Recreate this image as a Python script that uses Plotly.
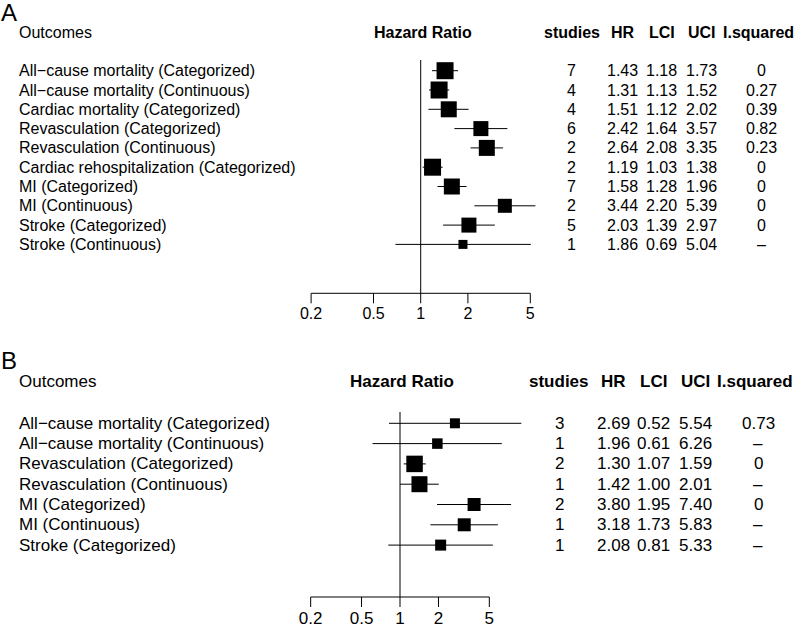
import plotly.graph_objects as go
import math

# ---------------- data ----------------
outcomes_a = ["All\u2212cause mortality (Categorized)", "All\u2212cause mortality (Continuous)",
              "Cardiac mortality (Categorized)", "Revasculation (Categorized)",
              "Revasculation (Continuous)", "Cardiac rehospitalization (Categorized)",
              "MI (Categorized)", "MI (Continuous)", "Stroke (Categorized)", "Stroke (Continuous)"]
studies_a = [7, 4, 4, 6, 2, 2, 7, 2, 5, 1]
hr_a = [1.43, 1.31, 1.51, 2.42, 2.64, 1.19, 1.58, 3.44, 2.03, 1.86]
lci_a = [1.18, 1.13, 1.12, 1.64, 2.08, 1.03, 1.28, 2.20, 1.39, 0.69]
uci_a = [1.73, 1.52, 2.02, 3.57, 3.35, 1.38, 1.96, 5.39, 2.97, 5.04]
isq_a = ["0", "0.27", "0.39", "0.82", "0.23", "0", "0", "0", "0", "\u2013"]
box_a = [17, 17, 16, 15, 16, 17, 16, 14, 15, 9]

outcomes_b = ["All\u2212cause mortality (Categorized)", "All\u2212cause mortality (Continuous)",
              "Revasculation (Categorized)", "Revasculation (Continuous)",
              "MI (Categorized)", "MI (Continuous)", "Stroke (Categorized)"]
studies_b = [3, 1, 2, 1, 2, 1, 1]
hr_b = [2.69, 1.96, 1.30, 1.42, 3.80, 3.18, 2.08]
lci_b = [0.52, 0.61, 1.07, 1.00, 1.95, 1.73, 0.81]
uci_b = [5.54, 6.26, 1.59, 2.01, 7.40, 5.83, 5.33]
# CI extents as drawn in the picture (first row is drawn wider than its table values)
lci_drawn_b = [0.82, 0.61, 1.07, 1.00, 1.95, 1.73, 0.81]
uci_drawn_b = [8.9, 6.26, 1.59, 2.01, 7.40, 5.83, 5.33]
isq_b = ["0.73", "\u2013", "0", "\u2013", "0", "\u2013", "\u2013"]
box_b = [10, 10.5, 16.5, 16, 13, 13, 11]

tick_vals = [0.2, 0.5, 1, 2, 5]
tick_text = ["0.2", "0.5", "1", "2", "5"]

W, H = 796, 635
FONT = "Liberation Sans, Arial, Helvetica, sans-serif"

fig = go.Figure()
annotations = []


def panel(xa, ya, letter, outcomes, studies, hr, lci, uci, lo_d, hi_d, isq, box,
          one_px, px_per_ln, row1_px, row_sp, top_px, bot_px, fs,
          letter_px, header_px, vtop_px, axis_px, lab_px, cols):
    xref = "x" if xa == "" else "x" + xa
    yref = "y" if ya == "" else "y" + ya
    n = len(outcomes)
    rows = list(range(1, n + 1))

    def py(p):  # pixel -> row units
        return 1 + (p - row1_px) / row_sp

    dec = px_per_ln * math.log(10)
    xr = [-one_px / dec, (W - one_px) / dec]
    yr = [py(bot_px), py(top_px)]

    # CI lines
    xs, ys = [], []
    for r, a, b in zip(rows, lo_d, hi_d):
        xs += [a, b, None]
        ys += [r, r, None]
    fig.add_trace(go.Scatter(x=xs, y=ys, mode="lines", line=dict(color="black", width=1),
                             xaxis=xref, yaxis=yref, hoverinfo="skip", showlegend=False))
    # boxes
    fig.add_trace(go.Scatter(x=hr, y=rows, mode="markers", opacity=1,
                             marker=dict(symbol="square", size=box, color="#000000",
                                         opacity=1, line=dict(width=0, color="#000000")),
                             xaxis=xref, yaxis=yref, showlegend=False, cliponaxis=False))
    # reference line at 1
    fig.add_trace(go.Scatter(x=[1, 1], y=[py(vtop_px), py(axis_px)], mode="lines",
                             line=dict(color="black", width=1), xaxis=xref, yaxis=yref,
                             hoverinfo="skip", showlegend=False))
    # axis line and ticks
    ay = py(axis_px)
    ty = py(axis_px + 10)
    xs = [tick_vals[0], tick_vals[-1], None]
    ys = [ay, ay, None]
    for t in tick_vals:
        xs += [t, t, None]
        ys += [ay, ty, None]
    fig.add_trace(go.Scatter(x=xs, y=ys, mode="lines", line=dict(color="black", width=1),
                             xaxis=xref, yaxis=yref, hoverinfo="skip", showlegend=False))
    fig.add_trace(go.Scatter(x=tick_vals, y=[py(lab_px)] * len(tick_vals), mode="text",
                             text=tick_text, textposition="middle center",
                             textfont=dict(family=FONT, size=fs, color="black"),
                             xaxis=xref, yaxis=yref, hoverinfo="skip", showlegend=False,
                             cliponaxis=False))

    # text
    def ann(text, xpx, y, anchor="center", size=fs, bold=False):
        t = "<b>%s</b>" % text if bold else text
        annotations.append(dict(text=t, x=xpx / W, xref="paper", y=y, yref=yref,
                                xanchor=anchor, yanchor="middle", showarrow=False,
                                borderpad=0,
                                font=dict(family=FONT, size=size, color="black")))

    ann(letter, 0, py(letter_px), anchor="left", size=24)
    ann("Outcomes", 18, py(header_px), anchor="left")
    ann("Hazard Ratio", one_px + 2, py(header_px), bold=True)
    heads = ["studies", "HR", "LCI", "UCI", "I.squared"]
    for h, c in zip(heads, cols):
        ann(h, c, py(header_px), bold=True)
    for r, o, s, h_, l, u, q in zip(rows, outcomes, studies, hr, lci, uci, isq):
        ann(o, 18, r, anchor="left")
        ann(str(s), cols[0], r)
        ann("%.2f" % h_, cols[1], r)
        ann("%.2f" % l, cols[2], r)
        ann("%.2f" % u, cols[3], r)
        ann(q, cols[4] + 3, r)
    return xr, yr


xr_a, yr_a = panel("", "", "A", outcomes_a, studies_a, hr_a, lci_a, uci_a, lci_a, uci_a,
                   isq_a, box_a, one_px=420.7, px_per_ln=68.1, row1_px=70.7, row_sp=19.3,
                   top_px=0, bot_px=330, fs=16, letter_px=12, header_px=32, vtop_px=60,
                   axis_px=293.3, lab_px=315, cols=[571.7, 622.7, 661.7, 701.7, 758])
xr_b, yr_b = panel("2", "2", "B", outcomes_b, studies_b, hr_b, lci_b, uci_b, lci_drawn_b,
                   uci_drawn_b, isq_b, box_b, one_px=400, px_per_ln=55.5, row1_px=423.3,
                   row_sp=20.3, top_px=330, bot_px=635, fs=17, letter_px=360,
                   header_px=381.7, vtop_px=412, axis_px=597, lab_px=620,
                   cols=[559, 613, 653, 695, 755])

split = 1 - 330 / H
ax_common = dict(showgrid=False, zeroline=False, showline=False, showticklabels=False,
                 ticks="", fixedrange=True)
fig.update_layout(
    width=W, height=H, margin=dict(l=0, r=0, t=0, b=0),
    paper_bgcolor="white", plot_bgcolor="rgba(0,0,0,0)",
    xaxis=dict(type="log", range=xr_a, domain=[0, 1], anchor="y", **ax_common),
    yaxis=dict(range=yr_a, domain=[split, 1], anchor="x", **ax_common),
    xaxis2=dict(type="log", range=xr_b, domain=[0, 1], anchor="y2", **ax_common),
    yaxis2=dict(range=yr_b, domain=[0, split], anchor="x2", **ax_common),
    annotations=annotations, showlegend=False,
)

fig.write_html("out.html", config={"displayModeBar": False},
               post_script="document.body.style.margin='0';document.body.style.overflow='hidden';")
